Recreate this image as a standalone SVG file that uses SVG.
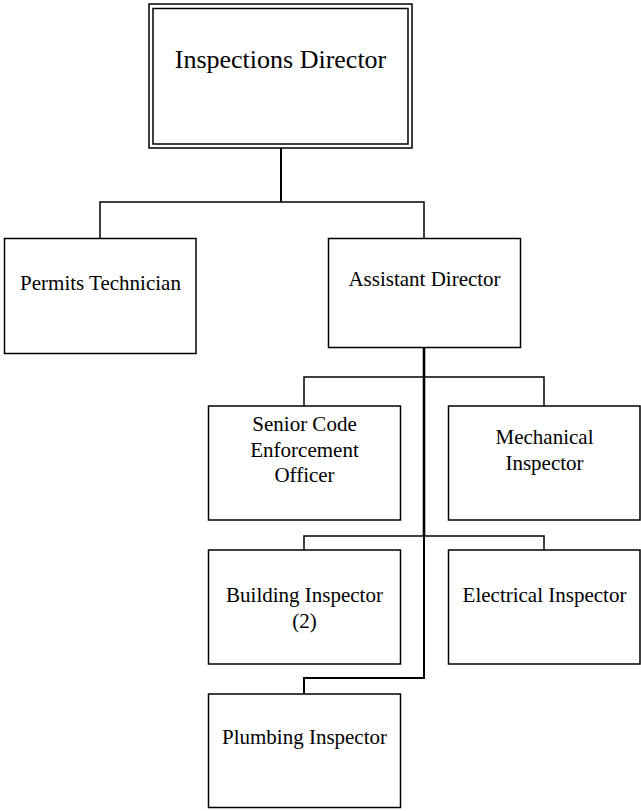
<svg xmlns="http://www.w3.org/2000/svg" width="641" height="811" viewBox="0 0 641 811">
<style>
.box{fill:#fff;stroke:#000;stroke-width:1.5}
.t{font-family:"Liberation Serif","Times New Roman",serif;font-size:21px;fill:#000;text-anchor:middle}
.c{fill:none;stroke:#000;stroke-width:1.5}
.trunk{fill:none;stroke:#000;stroke-width:2.6}
</style>
<rect width="641" height="811" fill="#fff"/>
<g id="connectors">
<path class="c" d="M281,148 V202" style="stroke-width:2"/>
<path class="c" d="M100,238 V202 H424 V238"/>
<path class="trunk" d="M424,347 V536"/>
<path class="c" d="M424,536 V678 H304 V694" style="stroke-width:2"/>
<path class="c" d="M304,406 V377 H544 V406"/>
<path class="c" d="M304,550 V536 H544 V550"/>
</g>
<g id="director">
<rect class="box" x="149" y="4" width="263" height="144"/>
<rect class="box" x="153" y="8.5" width="255" height="135.5"/>
<text class="t" x="280.5" y="68" style="font-size:26px">Inspections Director</text>
</g>
<g id="permits">
<rect class="box" x="4.5" y="238.5" width="191.5" height="115"/>
<text class="t" x="100.5" y="290">Permits Technician</text>
</g>
<g id="assistant">
<rect class="box" x="328.5" y="238.5" width="192" height="109"/>
<text class="t" x="424.5" y="286">Assistant Director</text>
</g>
<g id="senior">
<rect class="box" x="208.5" y="406" width="192" height="114"/>
<text class="t" x="304.5" y="431">Senior Code</text>
<text class="t" x="304.5" y="457">Enforcement</text>
<text class="t" x="304.5" y="482">Officer</text>
</g>
<g id="mechanical">
<rect class="box" x="448.5" y="406" width="191.5" height="114"/>
<text class="t" x="544.5" y="443.5">Mechanical</text>
<text class="t" x="544.5" y="469.5">Inspector</text>
</g>
<g id="building">
<rect class="box" x="208.5" y="550" width="192" height="114"/>
<text class="t" x="304.5" y="602">Building Inspector</text>
<text class="t" x="304.5" y="627.5">(2)</text>
</g>
<g id="electrical">
<rect class="box" x="448.5" y="550" width="191.5" height="114"/>
<text class="t" x="544.5" y="602">Electrical Inspector</text>
</g>
<g id="plumbing">
<rect class="box" x="208.5" y="694" width="192" height="113.5"/>
<text class="t" x="304.5" y="743.5">Plumbing Inspector</text>
</g>
</svg>
